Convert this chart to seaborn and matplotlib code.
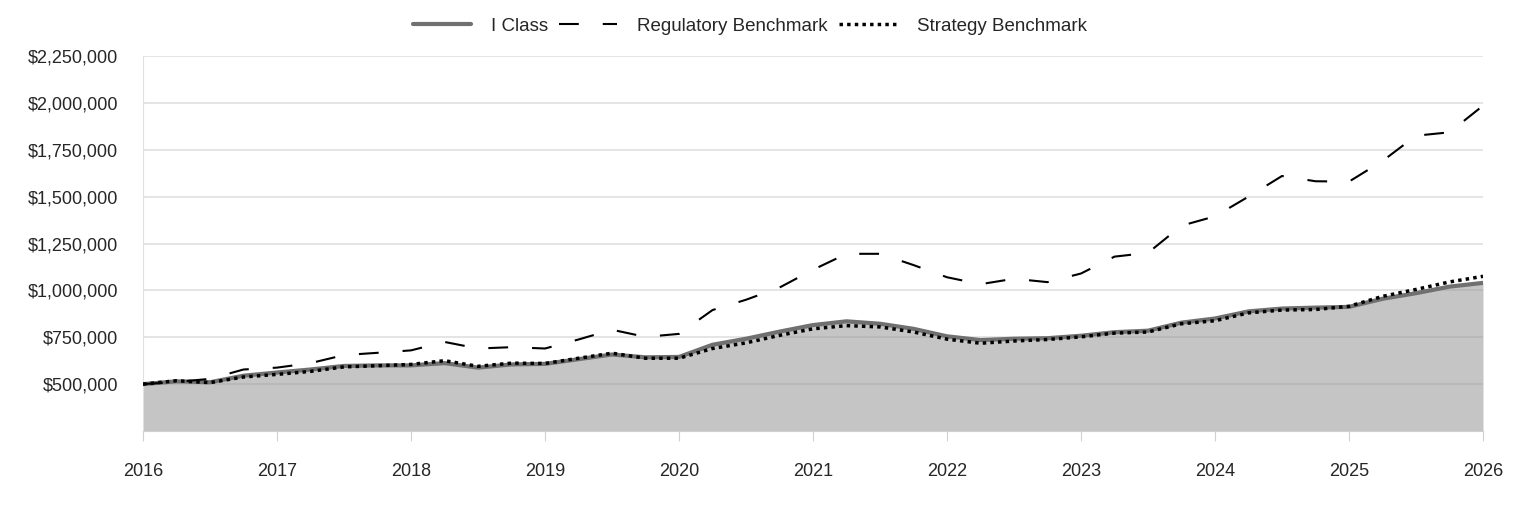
import numpy as np
import pandas as pd
import seaborn as sns
import matplotlib.pyplot as plt
from matplotlib.ticker import FuncFormatter

# quarterly points, 2016.00 .. 2026.00
quarters = [2016 + q / 4 for q in range(41)]

i_class = [500, 515, 510, 545, 562, 578, 597, 600, 600, 612, 588, 605, 608, 633,
           658, 643, 645, 710, 742, 780, 815, 835, 822, 795, 755, 735, 742, 745,
           758, 777, 785, 828, 850, 888, 903, 908, 912, 955, 985, 1020, 1040]
regulatory = [500, 512, 528, 578, 588, 612, 655, 667, 680, 725, 690, 697, 690, 738,
              790, 752, 768, 895, 950, 1015, 1110, 1195, 1195, 1135, 1070, 1033, 1062,
              1044, 1090, 1180, 1200, 1345, 1395, 1500, 1610, 1582, 1580, 1690, 1825,
              1843, 1985]
strategy = [500, 518, 508, 538, 552, 568, 592, 598, 605, 625, 595, 612, 610, 638,
            665, 638, 638, 690, 720, 760, 795, 812, 805, 778, 740, 718, 730, 738,
            752, 772, 778, 822, 838, 880, 895, 898, 915, 968, 1005, 1045, 1075]

years = list(range(2016, 2027))
y_ticks = [500000, 750000, 1000000, 1250000, 1500000, 1750000, 2000000, 2250000]

df = pd.DataFrame({
    'x': quarters,
    'I Class': np.array(i_class) * 1000,
    'Regulatory Benchmark': np.array(regulatory) * 1000,
    'Strategy Benchmark': np.array(strategy) * 1000,
})

sns.set_style('white')
plt.rcParams['font.family'] = ['Liberation Sans', 'DejaVu Sans']

fig = plt.figure(figsize=(15.24, 5.16), dpi=100)
ax = fig.add_axes([143 / 1524, 1 - 431 / 516, 1340 / 1524, 375 / 516])

ax.fill_between(df['x'], 250000, df['I Class'], color='#8c8c8c', alpha=0.5,
                linewidth=0, zorder=2)
sns.lineplot(data=df, x='x', y='I Class', ax=ax, color='#707070', linewidth=3,
             label='I Class', zorder=3)
sns.lineplot(data=df, x='x', y='Regulatory Benchmark', ax=ax, color='black',
             linewidth=1.5, dashes=False, label='Regulatory Benchmark', zorder=4)
ax.lines[-1].set_dashes((9.5, 11.5))
sns.lineplot(data=df, x='x', y='Strategy Benchmark', ax=ax, color='black',
             linewidth=2.5, label='Strategy Benchmark', zorder=4)
ax.lines[-1].set_dashes((1, 1.2))

ax.set_xlim(2016, 2026)
ax.set_ylim(250000, 2250000)
ax.set_xticks(years)
ax.set_xticklabels([str(y) for y in years])
ax.set_yticks(y_ticks)
ax.yaxis.set_major_formatter(FuncFormatter(lambda v, p: f'${v:,.0f}'))
ax.set_xlabel('')
ax.set_ylabel('')

ax.grid(axis='y', color='#e0e0e0', linewidth=1.2, zorder=1)
ax.set_axisbelow(True)
for s in ['top', 'right']:
    ax.spines[s].set_visible(False)
ax.spines['left'].set_color('#e0e0e0')
ax.spines['bottom'].set_color('#d0d0d0')
ax.tick_params(axis='x', length=7, color='#d0d0d0', labelsize=13, pad=16,
               bottom=True)
ax.tick_params(axis='y', length=0, labelsize=13, pad=18)

ax.legend_.remove() if ax.legend_ else None
handles, labels = ax.get_legend_handles_labels()
fig.legend(handles, labels, loc='center', bbox_to_anchor=(0.492, 1 - 26 / 516),
           ncol=3, frameon=False, fontsize=13.5, handlelength=3.1,
           columnspacing=0.6, handletextpad=1.05)

fig.savefig('out.png', dpi=100)
